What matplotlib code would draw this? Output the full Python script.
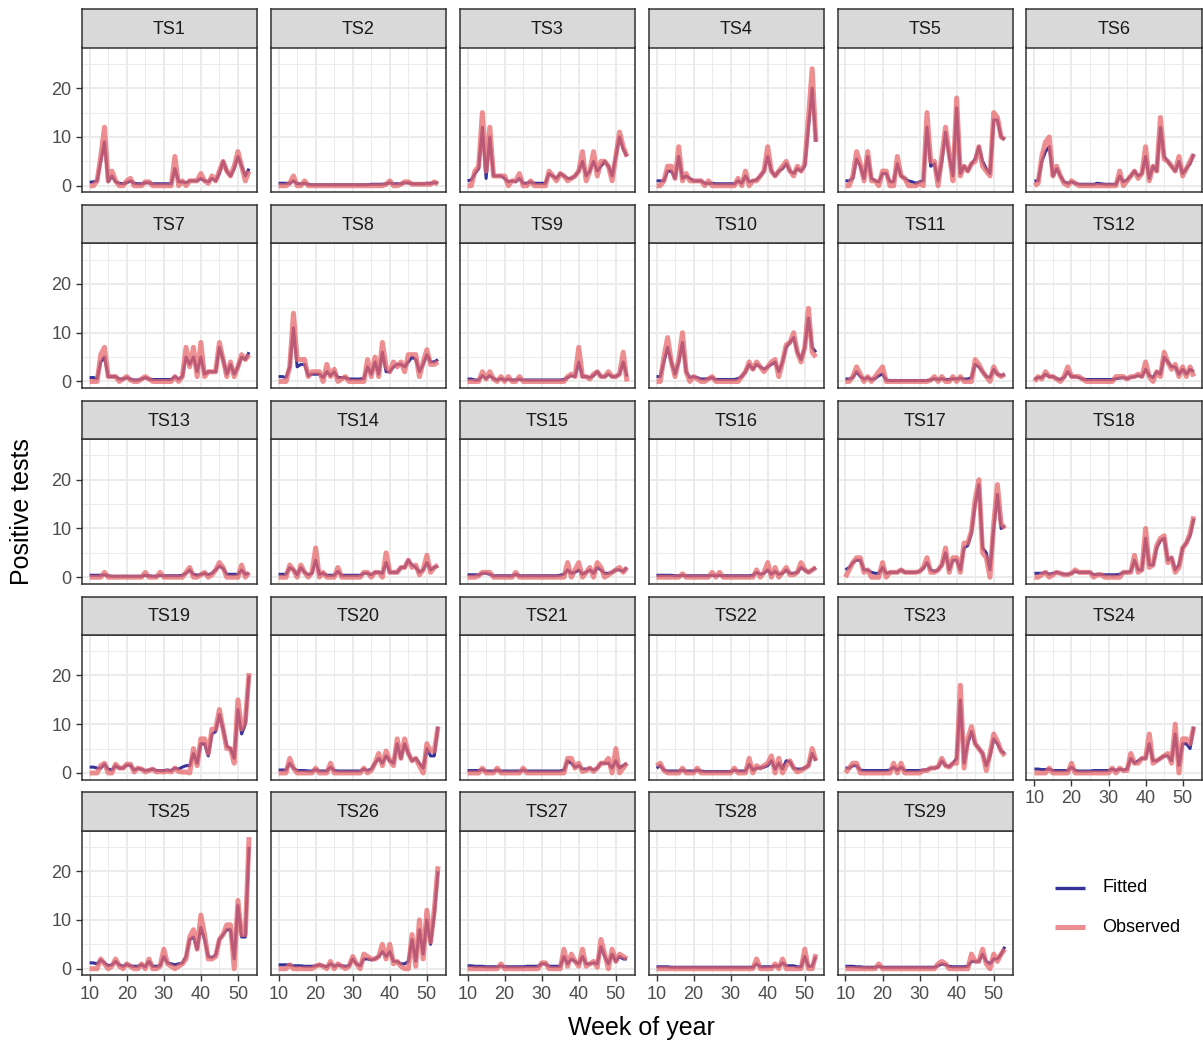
import matplotlib
matplotlib.use('Agg')
import matplotlib.pyplot as plt
from matplotlib.lines import Line2D

plt.rcParams['font.family'] = ['Liberation Sans', 'DejaVu Sans']

# ---------------- data ----------------
weeks = list(range(10, 54))
names = ['TS%d' % k for k in range(1, 30)]

TS1_obs = [0,0,1,6,12,1,3,1,0,0,1, 1.5,0,0,0,0.8,0.8,0,0,0,0,0, 0,6,0,1,0,1,1,1,2.5,1,0.5, 2,1,3,5,3,2,4,7,4,1,3]
TS1_fit = [0.7,0.8,1,5,9,0.8,2,0.8,0.5,0.4,0.6, 1,0.5,0.4,0.4,0.6,0.6,0.4,0.4,0.4,0.4,0.4, 0.4,3.5,0.8,0.8,0.6,1,1,1,1.5,1,0.8, 1.5,1,2.5,5,3,2,3.5,6,4,2,3.5]
TS2_obs = [0,0,0,0.5,2,0,0,1,0,0,0, 0,0,0,0,0,0,0,0,0,0,0, 0,0,0,0,0,0,0,0.3,1,0,0, 0.3,0.8,0.8,0.3,0.3,0.3,0.3,0.3,0.3,0.8,0.3]
TS2_fit = [0.5,0.5,0.5,0.5,1,0.4,0.4,0.5,0.3,0.2,0.2, 0.2,0.2,0.2,0.2,0.2,0.2,0.2,0.2,0.2,0.2,0.2, 0.2,0.2,0.2,0.3,0.3,0.3,0.3,0.4,0.6,0.4,0.4, 0.4,0.6,0.6,0.4,0.4,0.4,0.4,0.5,0.5,0.6,0.6]
TS3_obs = [0,0,3,4,15,3,12,2,2,2,2, 0,1,1,2.5,0,0,1,0,0,0,0, 3,2,1,2.5,2,1,1.5,2,3,7,1, 3,7,2,5,5,4,1,6,11,8,6]
TS3_fit = [1,1.2,2.5,3.5,12,1.5,10,2,2,2,1.5, 0.8,1,0.8,1.5,0.5,0.5,0.8,0.5,0.5,0.5,0.5, 2.5,2,1.5,2.5,2,1.5,1.5,2,3,5,2, 3,5,3,4,5,4,2,6,10,7.5,6]
TS4_obs = [0,0,1,4,4,1.5,8,1,2.5,1,1, 1,1,0,1,0,0,0,0,0,0,0, 1.5,0,3,0,1,1,2,3,8,3,2, 3,4,5,3,2,4,3,4.5,14,24,9]
TS4_fit = [1,1,1,3,3,1.5,6,1.5,2,1.5,1, 1,1,0.5,0.5,0.5,0.4,0.4,0.4,0.4,0.4,0.4, 1,0.5,2,0.8,1,1.2,2,3,6,3,2, 3,3.5,4.5,3,2.5,3.5,3,4,12,20,9]
TS5_obs = [0,0,2,7,4.5,1,7,1,1,0,3, 3,0,0,6,2,1.5,0,0,0,0.5,0, 15,5,5,0,6,12,6.5,1,18,2,4, 3,4.5,5,8,4,3,2,15,14,10,9.5]
TS5_fit = [1,1,1.5,5.5,4,1.5,6,1.5,1,0.8,2.5, 2.5,0.8,0.8,4.5,2,1.5,1,0.8,0.5,0.8,1, 12,4,4.5,1,5,11,6,2,16,2.5,4, 3,4.5,5.5,8,5,3.5,2.5,13.5,13.5,10,9.5]
TS6_obs = [0,0.5,6,9,10,2,4,2,0.5,0,1, 0.5,0,0,0,0,0,0,0,0,0,0, 0,3,0,1,2,3,1.5,2.5,8,1,4, 3,14,5.5,5,4,3,6,2,3.5,5,6.5]
TS6_fit = [1,1,5,7,8,2,3.5,2,0.8,0.5,0.8, 0.5,0.3,0.3,0.3,0.3,0.3,0.5,0.4,0.3,0.3,0.3, 0.3,2,0.8,1.2,2,3,2,2.5,6,1.5,4, 3,12,6,5,4,3,5,2.5,3.5,4.5,6.5]
TS7_obs = [0,0,0,5.5,7,1,1,1,0,0.5,1, 0.3,0,0,0.5,1,0.5,0,0,0,0,0, 0,1,0,1,7,3,7,1,8,1,2, 2,2,8,4.5,1,4,1,3,5.5,4.5,5.5]
TS7_fit = [0.8,0.8,0.6,4,5,1,1,1,0.5,0.5,0.8, 0.5,0.3,0.3,0.5,0.8,0.5,0.4,0.4,0.4,0.4,0.4, 0.4,1,0.5,1,5,3.5,5,2,5,1.5,2, 2,2,7,4.5,1.5,3.5,1.5,3,5,4.5,6]
TS8_obs = [0,0,0,3,14,4.5,4.5,4.5,1,2,2, 2,0,3.5,1,2.5,0,0.5,1,0,0,0, 0,0,4.5,1,5,1,8,3,2,4,3, 4,2,5.5,5.5,5.5,1,4,6.5,3.5,3.5,4]
TS8_fit = [1,1,0.8,3,11,3,3.5,3.5,1.2,1.5,1.5, 1.5,0.8,2,1.2,2,0.8,0.8,0.8,0.5,0.5,0.5, 0.5,0.6,3,1.5,4,1.5,6,2,2,3,3.5, 3.5,3,4,5,4.5,2,3.5,5.5,4,4,4.5]
TS9_obs = [0,0,0,0,2,0.5,2,0.5,0,1,0, 1,0,0,1,0,0,0,0,0,0,0, 0,0,0,0,0,1,1.5,1,7,1,1, 0.5,1.5,2,1,1,2,1,1,1.5,6,0]
TS9_fit = [0.5,0.5,0.3,0.3,1.2,0.6,1.2,0.6,0.3,0.6,0.3, 0.5,0.3,0.3,0.5,0.3,0.3,0.3,0.3,0.3,0.3,0.3, 0.3,0.3,0.3,0.3,0.4,0.8,1.2,1,4,1,1, 0.8,1.2,2,1,1,1.5,1,1,1.5,4,1]
TS10_obs = [0,0,5,9,4,1,4.5,10,2,0,1, 0.5,0,0,0.5,1,0,0,0,0,0,0, 0,1,2,4,2.5,4,3,2,3,4,4.5, 1,4,7.5,8,10,6,4,7,15,6,5]
TS10_fit = [1,1,4,7,4,1.5,4,8,2,0.8,1, 0.8,0.5,0.5,0.6,0.8,0.4,0.4,0.4,0.4,0.4,0.4, 0.6,1,2,3.5,2.5,3.5,3,2.5,3,3.5,4, 2,4,7,8,9,6,4.5,7,13,7,6]
TS11_obs = [0,0,1,3,1.5,0,1,0,1,2,3, 0,0,0,0,0,0,0,0,0,0,0, 0,0.3,1,0,1,0,0,1,0,1,0, 0,0,4.5,3.5,2,1,0,3,1.5,1,1.5]
TS11_fit = [0.5,0.5,0.8,2,1,0.5,0.8,0.4,0.6,1.2,1.5, 0.3,0.2,0.2,0.2,0.2,0.2,0.2,0.2,0.2,0.2,0.2, 0.2,0.3,0.6,0.4,0.6,0.4,0.4,0.6,0.5,0.7,0.5, 0.5,0.8,3.5,3,2,1,0.8,2.5,1.5,1.2,1.5]
TS12_obs = [0,1,0.5,2,1,1,0.5,0,1,3,1, 1,1,0.5,0,0,0,0,0,0,0,0, 1,1,1,0.5,1,1,1.5,1,4,1,0, 2,1,6,4,2.5,3.5,1,3,1,3,1]
TS12_fit = [0.5,0.8,0.8,1.5,1,1,0.6,0.4,0.8,2,1, 1,0.8,0.5,0.4,0.4,0.4,0.4,0.4,0.4,0.4,0.4, 0.6,0.7,0.8,0.6,0.8,1,1.2,1,2.5,1.2,0.8, 2,1.5,5,4,3,3,1.5,2.5,1.5,2.5,2]
TS13_obs = [0,0,0,0,1,0,0,0,0,0,0, 0,0,0,0,1,0,0,0,1,0,0, 0,0,0,0,1,2,0,0,0.5,1,0, 0.5,1.5,3,2,0,0,0,0,2.5,0,1]
TS13_fit = [0.4,0.4,0.4,0.4,0.5,0.3,0.2,0.2,0.2,0.2,0.2, 0.2,0.2,0.2,0.2,0.4,0.3,0.2,0.2,0.4,0.3,0.3, 0.3,0.3,0.3,0.4,0.8,1.5,0.6,0.4,0.6,0.8,0.5, 0.8,1.5,2.3,1.8,0.6,0.6,0.6,0.6,1.5,0.6,0.8]
TS14_obs = [0,0,0,2.5,1.5,0,2.5,1,0,1,6, 0,1,0,0,0,2,0,0,0,0,0, 0,1,1,0,1,1,0,5,1,1,1, 2,2,3.5,2,2.5,0.5,1.5,4.5,1,2,2.5]
TS14_fit = [0.6,0.6,0.6,2,1.5,0.5,2,1,0.5,0.8,3.5, 0.6,0.8,0.4,0.4,0.4,1.2,0.4,0.4,0.4,0.4,0.4, 0.4,0.8,0.8,0.5,1,1,0.8,3,1,1,1, 2,2,3.5,2.5,2,1,1.5,3,1.5,2,2.3]
TS15_obs = [0,0,0,0.3,1,1,1,0,0,0,0, 0,0,1,0,0,0,0,0,0,0,0, 0,0,0,0,0,3,0,1.5,3,0,1, 2,0,3,2,0,0.5,1,1.5,2,1,2]
TS15_fit = [0.5,0.5,0.5,0.5,0.8,0.8,0.6,0.3,0.3,0.3,0.3, 0.3,0.3,0.6,0.3,0.3,0.3,0.3,0.3,0.3,0.3,0.3, 0.3,0.3,0.3,0.4,0.6,1.5,0.8,1,1.5,0.6,1, 1.5,0.8,2,1.5,0.8,0.8,1,1.5,1.5,1.2,2]
TS16_obs = [0,0,0,0,0,0,0,0.7,0,0,0, 0,0,0,0,1,0,1,0,0,0,0, 0,0,0,0,0,1.5,0,1,3,0,2, 0,1,2,0.5,0.5,1,3,1.5,1,1.5,2]
TS16_fit = [0.4,0.4,0.4,0.4,0.4,0.3,0.3,0.4,0.3,0.3,0.3, 0.3,0.3,0.3,0.3,0.4,0.3,0.4,0.3,0.3,0.3,0.3, 0.3,0.3,0.3,0.3,0.4,1,0.6,0.8,1.5,0.6,1.2, 0.6,0.8,1.5,0.8,0.8,1,2,1.5,1,1.5,2]
TS17_obs = [0,1.5,3,4,4,1,1.5,0,0,0,3, 0,1,1,1,1.5,1,1,1,1,1.2,2, 4,1,1,1.5,2.5,6,1,4,4,1,7, 7,9.5,16,20,5,4,0,11,19,11,10]
TS17_fit = [1.5,2,3,3.5,3.5,1.5,1.5,1,0.8,0.8,2, 0.8,1,1,1,1.5,1,1,1,1,1.2,1.8, 3,1.5,1.2,1.5,2.5,5,1.5,3.5,3.5,1.5,6, 6.5,9,15,19,6,5,1.5,10,17,10,10.5]
TS18_obs = [0,0,0.5,1,0,0.5,1,0.8,0.5,0.5,0.8, 1.5,1,1,1,1,0,0.5,0.5,0,0,0, 0,0,1,1,1,4.5,1,1.5,10,2,2.5, 6.5,8,8.5,3,4,1,2,6,7,9,12.5]
TS18_fit = [0.8,0.8,0.8,1,0.6,0.8,1,0.8,0.6,0.6,0.8, 1.2,1,1,1,1,0.5,0.6,0.6,0.5,0.5,0.5, 0.5,0.6,1,1,1.2,3.5,1.5,1.5,8,2.5,2.5, 6,7.5,8,3.5,4,1.5,2.5,6,7,8.5,12]
TS19_obs = [0,0,0,1.5,2,0,0,1.8,1,1,1.8, 1.8,0.2,1,0.8,0.2,0.5,0.8,0.2,0.3,0.2,0.4, 0.2,1,0.3,0.2,0.2,0,5,1.5,7,7,4, 9,9,13,9,5,5,2,15,9,10.5,20.5]
TS19_fit = [1.2,1.2,1,1,1.8,0.8,0.6,1.5,1,1,1.6, 1.6,0.6,0.9,0.8,0.5,0.6,0.8,0.5,0.5,0.5,0.6, 0.5,1,0.8,1.2,1.5,1.5,4,2,6,6,3.5, 8,8.5,12,9,5.5,5,3,13,8,10,20]
TS20_obs = [0,0,0,3,1,0,0,0,0,0,1, 0,0,0,2,0,0,0,0,0,0,0, 0,1,0,0.5,2,4,1.5,4.5,2.5,1.5,7, 3,7,4,2.5,3,1.5,0,6,4.5,4.5,9.5]
TS20_fit = [0.6,0.6,0.6,2,1,0.5,0.5,0.5,0.4,0.4,0.7, 0.4,0.4,0.4,1.2,0.5,0.4,0.4,0.4,0.4,0.4,0.4, 0.4,0.8,0.5,0.8,2,3,2,3.5,2.5,2,6, 3,6,4,2.5,3,2,1,5,3.5,3.5,9.5]
TS21_obs = [0,0,0,0,1,0,0,0,1,0,0, 0,0,0,0,1,0,0,0,0,0,0, 0,0,0,0,0,3,3,1,2,0.3,0.5, 1,0.3,1,2,2,3,0,5,0,1,2]
TS21_fit = [0.5,0.5,0.5,0.5,0.7,0.4,0.4,0.4,0.6,0.4,0.4, 0.4,0.4,0.4,0.4,0.6,0.4,0.4,0.4,0.4,0.4,0.4, 0.4,0.4,0.4,0.4,0.6,2.5,2,1.2,1.5,0.8,0.8, 1,0.6,1,2,2,2,1,2.5,1,1.5,2]
TS22_obs = [1.5,2,0.5,0,0,0,0,1,0,0,0, 1,0,0,0,0,0,0,0,0,0,1, 0,0,0,3,0,1.5,1,1.5,2,3.5,0, 3,0,1.5,2.5,1,0.2,0.5,1,1.5,5,2.5]
TS22_fit = [1,1.5,0.6,0.4,0.4,0.4,0.4,0.6,0.4,0.4,0.4, 0.6,0.4,0.3,0.3,0.3,0.3,0.3,0.3,0.3,0.3,0.6, 0.4,0.4,0.4,1.8,0.6,1,1,1.2,1.5,2.5,0.8, 2,0.8,2.5,2.3,1,0.8,0.8,1,1.5,4,2.5]
TS23_obs = [0,1,2,2,0,0,0,0,0,0,0, 0,0,2,0,2,0,0,0,0,0,0.5, 0.5,1,1,1.3,3,1.5,1.2,2,2,18,1, 7,9.5,6,5,4,0.5,4,8,6.5,4.5,3.5]
TS23_fit = [1,1,1.5,1.5,0.6,0.5,0.5,0.5,0.5,0.5,0.5, 0.5,0.6,1.2,0.6,1.2,0.5,0.5,0.5,0.5,0.5,0.6, 0.7,1,1,1.2,2.5,1.5,1.3,2,3,15,2, 6,8.5,6,5,4,1.5,3.5,7,6,4.5,4]
TS24_obs = [0,0,0,0,1,0,0,0,0,0,2, 0,0,0,0,0,0,0,0,0,0,1, 0,1,0.5,0.5,4,2,2,3,3,8,2, 2.5,3,3.5,4,2,10,0,7,7,6,9.5]
TS24_fit = [0.8,0.8,0.7,0.7,0.8,0.5,0.5,0.5,0.5,0.5,1.2, 0.5,0.4,0.4,0.4,0.4,0.5,0.5,0.5,0.5,0.5,0.8, 0.5,0.8,0.6,0.8,3,2,2.5,3,3,6,2.5, 2.5,3,3.5,3.5,2.5,8,1.5,6,6,5,9.5]
TS25_obs = [0,0,0,2,1,0,0.5,2,0.5,0,1, 0.5,0,0,1,0,2,0,0,0.5,4,1, 0.5,0,0.5,1,2,6.5,8,4,11,7,2, 2,2.5,6,7,9,9,0,14,7,7,27]
TS25_fit = [1.2,1.2,1,1.8,1.2,0.6,0.8,1.5,0.8,0.5,0.9, 0.6,0.5,0.5,0.8,0.4,1.5,0.5,0.5,0.6,2.5,1.2, 1,0.8,1,1.2,2.5,6,6.5,4,8.5,6,2.5, 2.3,2.8,6,7,8,8,2,13,6.5,6.5,25]
TS26_obs = [0,0,0,0.8,0,0,0,0,0,0,0.5, 0.8,0.5,0,1.5,0,1,0.5,0,0.5,2.5,1, 0,3,2.5,2,2,2.5,5,2,5,1,1.5, 0.5,0,0,7,0.5,10,2,12,5.5,12,21]
TS26_fit = [0.8,0.8,0.8,0.8,0.6,0.6,0.6,0.5,0.5,0.5,0.6, 0.8,0.6,0.4,1,0.5,0.8,0.6,0.5,0.6,2,1, 0.6,2,2,1.8,2,2.5,3.5,2.5,3.5,1.5,1.5, 1,1,1.5,6,1.5,8,3,10,5,11,20]
TS27_obs = [0,0,0,0,0,0,0,0,0,1,0, 0,0,0,0,0,0,0,0,0,1.2,1.2, 0,0,0,0,4,0.5,3,1.5,0.5,4,0.5, 1,1.5,0.3,6,3,0,4,1.5,3,2.5,2]
TS27_fit = [0.6,0.6,0.5,0.5,0.5,0.4,0.4,0.4,0.4,0.6,0.4, 0.4,0.4,0.4,0.4,0.4,0.5,0.5,0.5,0.5,1,1, 0.5,0.5,0.5,0.5,2.5,1,2,1.5,1,2.5,1, 1,1.2,1,4.5,2.5,1,3,1.5,2.5,2,2]
TS28_obs = [0,0,0,0,0,0,0,0,0,0,0, 0,0,0,0,0,0,0,0,0,0,0, 0,0,0,0,0,2,0,0,0,0,1, 0,2,0,0,0,0,0,4,0,0,3]
TS28_fit = [0.4,0.4,0.4,0.4,0.3,0.3,0.3,0.3,0.3,0.3,0.3, 0.3,0.3,0.3,0.3,0.3,0.3,0.3,0.3,0.3,0.3,0.3, 0.3,0.3,0.3,0.3,0.3,1,0.4,0.4,0.4,0.4,0.6, 0.5,1.2,0.6,0.6,0.6,0.4,0.4,2.5,0.5,0.5,2.5]
TS29_obs = [0,0,0,0,0,0,0,0,0,1,0, 0,0,0,0,0,0,0,0,0,0,0, 0,0,0,1,1.5,1,0,0,0,0,0, 0,3,1.5,1.5,4,1,0,3,1.5,3,4]
TS29_fit = [0.5,0.5,0.5,0.4,0.4,0.3,0.3,0.3,0.3,0.5,0.3, 0.3,0.3,0.3,0.3,0.3,0.3,0.3,0.3,0.3,0.3,0.3, 0.3,0.3,0.3,0.6,1,0.8,0.5,0.4,0.4,0.4,0.4, 0.5,1.5,1.5,1.5,3,1.5,1,2,2,3,4.5]

observed = [globals()['TS%d_obs' % k] for k in range(1, 30)]
fitted = [globals()['TS%d_fit' % k] for k in range(1, 30)]

x_major = [10, 20, 30, 40, 50]
x_minor = [15, 25, 35, 45, 55]
y_major = [0, 10, 20]
y_minor = [5, 15, 25]

# ---------------- style ----------------
FIT_COL = '#35339A'
OBS_COL = '#E8686C'
OBS_ALPHA = 0.75
GRID = '#EBEBEB'
BORDER = '#333333'
TICKTXT = '#4D4D4D'

W, H = 1203, 1046
fig = plt.figure(figsize=(W / 100, H / 100), dpi=100)


def frac(x0, y0, x1, y1):
    return [x0 / W, 1 - y1 / H, (x1 - x0) / W, (y1 - y0) / H]


ymax = max(max(s) for s in observed)
ylo, yhi = -0.05 * ymax, ymax * 1.05

for i, name in enumerate(names):
    r, c = divmod(i, 6)
    left = 81.7 + 188.95 * c
    right = left + 175.3
    ptop = 47.5 + 195.75 * r
    pbot = 192.3 + 195.75 * r
    stop = 9.3 + 195.75 * r

    ax = fig.add_axes(frac(left, ptop, right, pbot))
    ax.set_xlim(7.85, 55.15)
    ax.set_ylim(ylo, yhi)
    ax.set_xticks(x_major)
    ax.set_xticks(x_minor, minor=True)
    ax.set_yticks(y_major)
    ax.set_yticks(y_minor, minor=True)
    ax.grid(which='major', color=GRID, lw=1.4)
    ax.grid(which='minor', color=GRID, lw=0.7)
    ax.set_axisbelow(True)
    ax.plot(weeks, fitted[i], color=FIT_COL, lw=2.2, solid_joinstyle='round',
            solid_capstyle='butt', zorder=2)
    ax.plot(weeks, observed[i], color=OBS_COL, alpha=OBS_ALPHA, lw=3.6,
            solid_joinstyle='round', solid_capstyle='butt', zorder=3)
    for sp in ax.spines.values():
        sp.set_color(BORDER)
        sp.set_linewidth(1.1)
        sp.set_zorder(5)
    show_x = i >= len(names) - 6
    show_y = c == 0
    ax.tick_params(which='minor', length=0)
    ax.tick_params(axis='x', which='major', length=4 if show_x else 0, width=1.0,
                   color=BORDER, labelbottom=show_x, labelsize=13,
                   labelcolor=TICKTXT, pad=3.5)
    ax.tick_params(axis='y', which='major', length=4 if show_y else 0, width=1.0,
                   color=BORDER, labelleft=show_y, labelsize=13,
                   labelcolor=TICKTXT, pad=3.5)

    sax = fig.add_axes(frac(left, stop, right, ptop))
    sax.set_facecolor('#D9D9D9')
    sax.set_xticks([])
    sax.set_yticks([])
    for sp in sax.spines.values():
        sp.set_color(BORDER)
        sp.set_linewidth(1.1)
    sax.text(0.5, 0.47, name, ha='center', va='center', fontsize=13,
             color='#1A1A1A', transform=sax.transAxes)

# axis titles
fig.text(641.6 / W, 1 - 1028 / H, 'Week of year', ha='center', va='center',
         fontsize=18, color='black')
fig.text(22 / W, 1 - 512 / H, 'Positive tests', ha='center', va='center',
         rotation=90, fontsize=18, color='black')

# legend
for yk, col, lw, al, lab in [(888, FIT_COL, 2.4, 1.0, 'Fitted'),
                              (927, OBS_COL, 3.6, OBS_ALPHA, 'Observed')]:
    fig.add_artist(Line2D([1055 / W, 1085 / W], [1 - yk / H, 1 - yk / H],
                          color=col, lw=lw, alpha=al, solid_capstyle='butt'))
    fig.text(1102 / W, 1 - yk / H, lab, ha='left', va='center', fontsize=13,
             color='black')

fig.savefig('out.png', dpi=100)
